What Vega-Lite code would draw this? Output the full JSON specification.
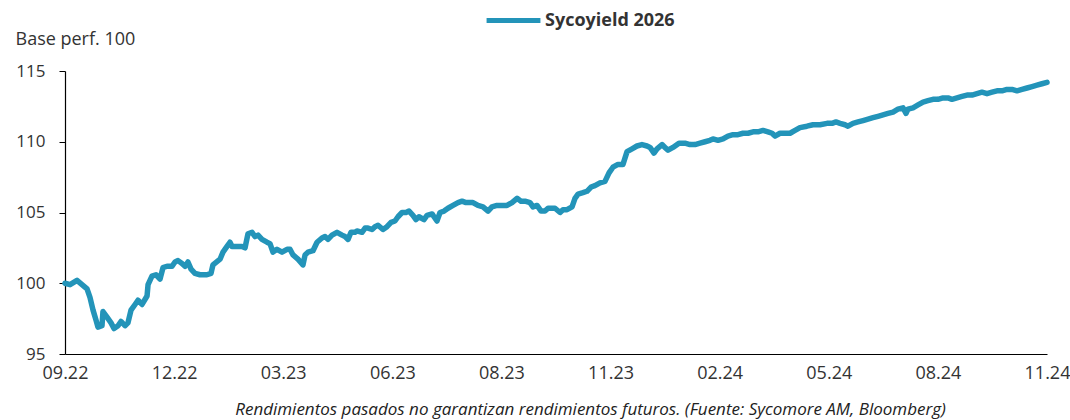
{
  "$schema": "https://vega.github.io/schema/vega-lite/v6.json",
  "width": 982,
  "height": 283,
  "autosize": "none",
  "padding": {"left": 65, "top": 71, "right": 23, "bottom": 66},
  "background": "white",
  "config": {"view": {"stroke": null}, "font": "Open Sans"},
  "data": {"values": [
    {"s":"Sycoyield 2026","t":0,"v":100.0},{"s":"Sycoyield 2026","t":0.046,"v":99.9},{"s":"Sycoyield 2026","t":0.110,"v":100.2},{"s":"Sycoyield 2026","t":0.156,"v":99.9},{"s":"Sycoyield 2026","t":0.202,"v":99.6},{"s":"Sycoyield 2026","t":0.229,"v":99.0},{"s":"Sycoyield 2026","t":0.257,"v":98.1},{"s":"Sycoyield 2026","t":0.284,"v":97.4},{"s":"Sycoyield 2026","t":0.302,"v":96.9},{"s":"Sycoyield 2026","t":0.339,"v":97.0},{"s":"Sycoyield 2026","t":0.348,"v":98.0},{"s":"Sycoyield 2026","t":0.385,"v":97.6},{"s":"Sycoyield 2026","t":0.422,"v":97.2},{"s":"Sycoyield 2026","t":0.449,"v":96.8},{"s":"Sycoyield 2026","t":0.486,"v":97.0},{"s":"Sycoyield 2026","t":0.513,"v":97.3},{"s":"Sycoyield 2026","t":0.550,"v":97.0},{"s":"Sycoyield 2026","t":0.577,"v":97.2},{"s":"Sycoyield 2026","t":0.605,"v":98.1},{"s":"Sycoyield 2026","t":0.642,"v":98.5},{"s":"Sycoyield 2026","t":0.669,"v":98.8},{"s":"Sycoyield 2026","t":0.706,"v":98.5},{"s":"Sycoyield 2026","t":0.752,"v":99.1},{"s":"Sycoyield 2026","t":0.761,"v":99.9},{"s":"Sycoyield 2026","t":0.797,"v":100.5},{"s":"Sycoyield 2026","t":0.834,"v":100.6},{"s":"Sycoyield 2026","t":0.871,"v":100.3},{"s":"Sycoyield 2026","t":0.898,"v":101.1},{"s":"Sycoyield 2026","t":0.935,"v":101.2},{"s":"Sycoyield 2026","t":0.981,"v":101.2},{"s":"Sycoyield 2026","t":1.008,"v":101.5},{"s":"Sycoyield 2026","t":1.036,"v":101.6},{"s":"Sycoyield 2026","t":1.072,"v":101.4},{"s":"Sycoyield 2026","t":1.100,"v":101.2},{"s":"Sycoyield 2026","t":1.127,"v":101.5},{"s":"Sycoyield 2026","t":1.155,"v":101.0},{"s":"Sycoyield 2026","t":1.191,"v":100.7},{"s":"Sycoyield 2026","t":1.237,"v":100.6},{"s":"Sycoyield 2026","t":1.301,"v":100.6},{"s":"Sycoyield 2026","t":1.338,"v":100.7},{"s":"Sycoyield 2026","t":1.356,"v":101.3},{"s":"Sycoyield 2026","t":1.421,"v":101.7},{"s":"Sycoyield 2026","t":1.448,"v":102.2},{"s":"Sycoyield 2026","t":1.485,"v":102.6},{"s":"Sycoyield 2026","t":1.512,"v":102.9},{"s":"Sycoyield 2026","t":1.531,"v":102.6},{"s":"Sycoyield 2026","t":1.576,"v":102.6},{"s":"Sycoyield 2026","t":1.622,"v":102.6},{"s":"Sycoyield 2026","t":1.650,"v":102.5},{"s":"Sycoyield 2026","t":1.677,"v":103.5},{"s":"Sycoyield 2026","t":1.714,"v":103.6},{"s":"Sycoyield 2026","t":1.741,"v":103.3},{"s":"Sycoyield 2026","t":1.769,"v":103.4},{"s":"Sycoyield 2026","t":1.805,"v":103.1},{"s":"Sycoyield 2026","t":1.851,"v":102.9},{"s":"Sycoyield 2026","t":1.879,"v":102.8},{"s":"Sycoyield 2026","t":1.906,"v":102.2},{"s":"Sycoyield 2026","t":1.943,"v":102.4},{"s":"Sycoyield 2026","t":1.989,"v":102.2},{"s":"Sycoyield 2026","t":2.035,"v":102.4},{"s":"Sycoyield 2026","t":2.062,"v":102.4},{"s":"Sycoyield 2026","t":2.090,"v":102.0},{"s":"Sycoyield 2026","t":2.135,"v":101.7},{"s":"Sycoyield 2026","t":2.181,"v":101.3},{"s":"Sycoyield 2026","t":2.200,"v":102.0},{"s":"Sycoyield 2026","t":2.227,"v":102.2},{"s":"Sycoyield 2026","t":2.273,"v":102.3},{"s":"Sycoyield 2026","t":2.310,"v":102.9},{"s":"Sycoyield 2026","t":2.355,"v":103.2},{"s":"Sycoyield 2026","t":2.383,"v":103.3},{"s":"Sycoyield 2026","t":2.410,"v":103.1},{"s":"Sycoyield 2026","t":2.447,"v":103.4},{"s":"Sycoyield 2026","t":2.493,"v":103.6},{"s":"Sycoyield 2026","t":2.539,"v":103.4},{"s":"Sycoyield 2026","t":2.566,"v":103.3},{"s":"Sycoyield 2026","t":2.594,"v":103.1},{"s":"Sycoyield 2026","t":2.621,"v":103.6},{"s":"Sycoyield 2026","t":2.658,"v":103.6},{"s":"Sycoyield 2026","t":2.676,"v":103.7},{"s":"Sycoyield 2026","t":2.722,"v":103.6},{"s":"Sycoyield 2026","t":2.750,"v":103.9},{"s":"Sycoyield 2026","t":2.777,"v":103.9},{"s":"Sycoyield 2026","t":2.814,"v":103.8},{"s":"Sycoyield 2026","t":2.841,"v":104.0},{"s":"Sycoyield 2026","t":2.869,"v":104.1},{"s":"Sycoyield 2026","t":2.914,"v":103.8},{"s":"Sycoyield 2026","t":2.951,"v":104.0},{"s":"Sycoyield 2026","t":2.988,"v":104.3},{"s":"Sycoyield 2026","t":3.024,"v":104.4},{"s":"Sycoyield 2026","t":3.052,"v":104.7},{"s":"Sycoyield 2026","t":3.089,"v":105.0},{"s":"Sycoyield 2026","t":3.125,"v":105.0},{"s":"Sycoyield 2026","t":3.153,"v":105.1},{"s":"Sycoyield 2026","t":3.189,"v":104.8},{"s":"Sycoyield 2026","t":3.217,"v":104.5},{"s":"Sycoyield 2026","t":3.244,"v":104.7},{"s":"Sycoyield 2026","t":3.290,"v":104.5},{"s":"Sycoyield 2026","t":3.318,"v":104.8},{"s":"Sycoyield 2026","t":3.364,"v":104.9},{"s":"Sycoyield 2026","t":3.382,"v":104.7},{"s":"Sycoyield 2026","t":3.409,"v":104.4},{"s":"Sycoyield 2026","t":3.437,"v":105.0},{"s":"Sycoyield 2026","t":3.474,"v":105.1},{"s":"Sycoyield 2026","t":3.510,"v":105.3},{"s":"Sycoyield 2026","t":3.556,"v":105.5},{"s":"Sycoyield 2026","t":3.602,"v":105.7},{"s":"Sycoyield 2026","t":3.639,"v":105.8},{"s":"Sycoyield 2026","t":3.675,"v":105.7},{"s":"Sycoyield 2026","t":3.712,"v":105.7},{"s":"Sycoyield 2026","t":3.739,"v":105.7},{"s":"Sycoyield 2026","t":3.785,"v":105.5},{"s":"Sycoyield 2026","t":3.831,"v":105.4},{"s":"Sycoyield 2026","t":3.877,"v":105.1},{"s":"Sycoyield 2026","t":3.913,"v":105.4},{"s":"Sycoyield 2026","t":3.959,"v":105.5},{"s":"Sycoyield 2026","t":4.005,"v":105.5},{"s":"Sycoyield 2026","t":4.051,"v":105.5},{"s":"Sycoyield 2026","t":4.097,"v":105.7},{"s":"Sycoyield 2026","t":4.143,"v":106.0},{"s":"Sycoyield 2026","t":4.179,"v":105.8},{"s":"Sycoyield 2026","t":4.216,"v":105.8},{"s":"Sycoyield 2026","t":4.262,"v":105.7},{"s":"Sycoyield 2026","t":4.289,"v":105.4},{"s":"Sycoyield 2026","t":4.326,"v":105.5},{"s":"Sycoyield 2026","t":4.363,"v":105.1},{"s":"Sycoyield 2026","t":4.399,"v":105.1},{"s":"Sycoyield 2026","t":4.427,"v":105.3},{"s":"Sycoyield 2026","t":4.491,"v":105.3},{"s":"Sycoyield 2026","t":4.537,"v":105.0},{"s":"Sycoyield 2026","t":4.564,"v":105.2},{"s":"Sycoyield 2026","t":4.601,"v":105.2},{"s":"Sycoyield 2026","t":4.647,"v":105.4},{"s":"Sycoyield 2026","t":4.674,"v":106.0},{"s":"Sycoyield 2026","t":4.702,"v":106.3},{"s":"Sycoyield 2026","t":4.747,"v":106.4},{"s":"Sycoyield 2026","t":4.784,"v":106.5},{"s":"Sycoyield 2026","t":4.821,"v":106.8},{"s":"Sycoyield 2026","t":4.857,"v":106.9},{"s":"Sycoyield 2026","t":4.903,"v":107.1},{"s":"Sycoyield 2026","t":4.949,"v":107.2},{"s":"Sycoyield 2026","t":4.986,"v":107.8},{"s":"Sycoyield 2026","t":5.022,"v":108.2},{"s":"Sycoyield 2026","t":5.068,"v":108.4},{"s":"Sycoyield 2026","t":5.114,"v":108.4},{"s":"Sycoyield 2026","t":5.151,"v":109.3},{"s":"Sycoyield 2026","t":5.197,"v":109.5},{"s":"Sycoyield 2026","t":5.242,"v":109.7},{"s":"Sycoyield 2026","t":5.288,"v":109.8},{"s":"Sycoyield 2026","t":5.334,"v":109.7},{"s":"Sycoyield 2026","t":5.362,"v":109.6},{"s":"Sycoyield 2026","t":5.398,"v":109.2},{"s":"Sycoyield 2026","t":5.426,"v":109.5},{"s":"Sycoyield 2026","t":5.472,"v":109.8},{"s":"Sycoyield 2026","t":5.499,"v":109.6},{"s":"Sycoyield 2026","t":5.527,"v":109.4},{"s":"Sycoyield 2026","t":5.572,"v":109.6},{"s":"Sycoyield 2026","t":5.627,"v":109.9},{"s":"Sycoyield 2026","t":5.682,"v":109.9},{"s":"Sycoyield 2026","t":5.728,"v":109.8},{"s":"Sycoyield 2026","t":5.774,"v":109.8},{"s":"Sycoyield 2026","t":5.820,"v":109.9},{"s":"Sycoyield 2026","t":5.866,"v":110.0},{"s":"Sycoyield 2026","t":5.911,"v":110.1},{"s":"Sycoyield 2026","t":5.939,"v":110.2},{"s":"Sycoyield 2026","t":5.985,"v":110.1},{"s":"Sycoyield 2026","t":6.031,"v":110.2},{"s":"Sycoyield 2026","t":6.076,"v":110.4},{"s":"Sycoyield 2026","t":6.122,"v":110.5},{"s":"Sycoyield 2026","t":6.168,"v":110.5},{"s":"Sycoyield 2026","t":6.214,"v":110.6},{"s":"Sycoyield 2026","t":6.260,"v":110.6},{"s":"Sycoyield 2026","t":6.306,"v":110.7},{"s":"Sycoyield 2026","t":6.351,"v":110.7},{"s":"Sycoyield 2026","t":6.397,"v":110.8},{"s":"Sycoyield 2026","t":6.443,"v":110.7},{"s":"Sycoyield 2026","t":6.480,"v":110.6},{"s":"Sycoyield 2026","t":6.507,"v":110.4},{"s":"Sycoyield 2026","t":6.553,"v":110.6},{"s":"Sycoyield 2026","t":6.599,"v":110.6},{"s":"Sycoyield 2026","t":6.645,"v":110.6},{"s":"Sycoyield 2026","t":6.691,"v":110.8},{"s":"Sycoyield 2026","t":6.736,"v":111.0},{"s":"Sycoyield 2026","t":6.800,"v":111.1},{"s":"Sycoyield 2026","t":6.855,"v":111.2},{"s":"Sycoyield 2026","t":6.920,"v":111.2},{"s":"Sycoyield 2026","t":6.984,"v":111.3},{"s":"Sycoyield 2026","t":7.030,"v":111.3},{"s":"Sycoyield 2026","t":7.066,"v":111.4},{"s":"Sycoyield 2026","t":7.103,"v":111.3},{"s":"Sycoyield 2026","t":7.149,"v":111.2},{"s":"Sycoyield 2026","t":7.176,"v":111.1},{"s":"Sycoyield 2026","t":7.222,"v":111.3},{"s":"Sycoyield 2026","t":7.268,"v":111.4},{"s":"Sycoyield 2026","t":7.314,"v":111.5},{"s":"Sycoyield 2026","t":7.360,"v":111.6},{"s":"Sycoyield 2026","t":7.405,"v":111.7},{"s":"Sycoyield 2026","t":7.451,"v":111.8},{"s":"Sycoyield 2026","t":7.497,"v":111.9},{"s":"Sycoyield 2026","t":7.543,"v":112.0},{"s":"Sycoyield 2026","t":7.589,"v":112.1},{"s":"Sycoyield 2026","t":7.634,"v":112.3},{"s":"Sycoyield 2026","t":7.680,"v":112.4},{"s":"Sycoyield 2026","t":7.708,"v":112.0},{"s":"Sycoyield 2026","t":7.726,"v":112.3},{"s":"Sycoyield 2026","t":7.772,"v":112.4},{"s":"Sycoyield 2026","t":7.818,"v":112.6},{"s":"Sycoyield 2026","t":7.864,"v":112.8},{"s":"Sycoyield 2026","t":7.909,"v":112.9},{"s":"Sycoyield 2026","t":7.955,"v":113.0},{"s":"Sycoyield 2026","t":8.001,"v":113.0},{"s":"Sycoyield 2026","t":8.047,"v":113.1},{"s":"Sycoyield 2026","t":8.093,"v":113.1},{"s":"Sycoyield 2026","t":8.129,"v":113.0},{"s":"Sycoyield 2026","t":8.175,"v":113.1},{"s":"Sycoyield 2026","t":8.221,"v":113.2},{"s":"Sycoyield 2026","t":8.267,"v":113.3},{"s":"Sycoyield 2026","t":8.313,"v":113.3},{"s":"Sycoyield 2026","t":8.358,"v":113.4},{"s":"Sycoyield 2026","t":8.404,"v":113.5},{"s":"Sycoyield 2026","t":8.450,"v":113.4},{"s":"Sycoyield 2026","t":8.496,"v":113.5},{"s":"Sycoyield 2026","t":8.542,"v":113.6},{"s":"Sycoyield 2026","t":8.588,"v":113.6},{"s":"Sycoyield 2026","t":8.633,"v":113.7},{"s":"Sycoyield 2026","t":8.679,"v":113.7},{"s":"Sycoyield 2026","t":8.725,"v":113.6},{"s":"Sycoyield 2026","t":8.771,"v":113.7},{"s":"Sycoyield 2026","t":8.817,"v":113.8},{"s":"Sycoyield 2026","t":8.863,"v":113.9},{"s":"Sycoyield 2026","t":8.908,"v":114.0},{"s":"Sycoyield 2026","t":8.954,"v":114.1},{"s":"Sycoyield 2026","t":9.000,"v":114.2}
  ]},
  "mark": {"type": "line", "strokeWidth": 5.5, "strokeCap": "round", "strokeJoin": "round"},
  "encoding": {
    "x": {
      "field": "t", "type": "quantitative",
      "scale": {"domain": [0, 9], "nice": false, "zero": false},
      "axis": {
        "values": [0,1,2,3,4,5,6,7,8,9],
        "labelExpr": "['09.22','12.22','03.23','06.23','08.23','11.23','02.24','05.24','08.24','11.24'][datum.value]",
        "grid": false, "ticks": false, "domainColor": "#000000", "domainWidth": 1.2,
        "labelFontSize": 18, "labelColor": "#333333", "labelPadding": 10, "labelFlush": false,
        "title": "Rendimientos pasados no garantizan rendimientos futuros. (Fuente: Sycomore AM, Bloomberg)",
        "titleFontStyle": "italic", "titleFontWeight": "normal", "titleFontSize": 17, "titleColor": "#222222",
        "titleX": 525, "titleY": 55, "titleBaseline": "middle"
      }
    },
    "y": {
      "field": "v", "type": "quantitative",
      "scale": {"domain": [95, 115], "nice": false, "zero": false},
      "axis": {
        "values": [95,100,105,110,115],
        "grid": false, "ticks": true, "tickSize": 6, "tickColor": "#000000", "domainColor": "#000000", "domainWidth": 1.2,
        "labelFontSize": 17, "labelColor": "#333333", "labelPadding": 14,
        "title": "Base perf. 100", "titleAngle": 0, "titleAlign": "left", "titleBaseline": "middle",
        "titleX": -50, "titleY": -32, "titleFontSize": 18, "titleFontWeight": "normal", "titleColor": "#333333"
      }
    },
    "color": {
      "field": "s", "type": "nominal",
      "scale": {"range": ["#2394b9"]},
      "legend": {
        "title": null, "orient": "none", "legendX": 419, "legendY": -80,
        "symbolType": "stroke", "symbolSize": 2900, "symbolStrokeWidth": 5,
        "labelFontSize": 18, "labelFontWeight": "bold", "labelColor": "#333333", "labelOffset": 2
      }
    }
  }
}
